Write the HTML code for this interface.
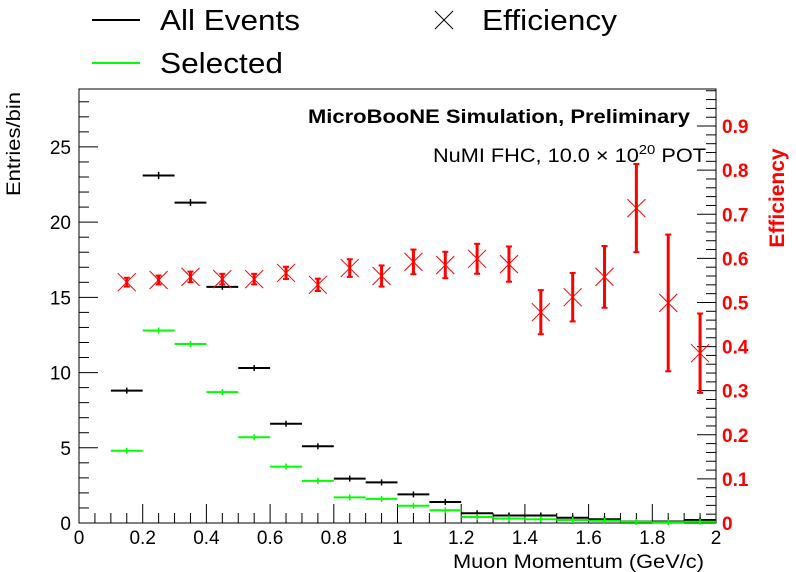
<!DOCTYPE html>
<html><head><meta charset="utf-8"><style>
html,body{margin:0;padding:0;background:#fff;}
svg{display:block;font-family:"Liberation Sans",sans-serif;}
</style></head><body>
<svg id="c" width="796" height="572" viewBox="0 0 796 572">
<rect width="796" height="572" fill="#fff"/>
<g id="legend">
<line x1="92" y1="20" x2="140" y2="20" stroke="#000" stroke-width="2"/>
<text x="160" y="30" font-size="29" textLength="140" lengthAdjust="spacingAndGlyphs">All Events</text>
<line x1="92" y1="63" x2="140" y2="63" stroke="#0f0" stroke-width="2"/>
<text x="160" y="73" font-size="29" textLength="123" lengthAdjust="spacingAndGlyphs">Selected</text>
<path d="M435 11 L453 29 M453 11 L435 29" stroke="#000" stroke-width="1"/>
<text x="482" y="30" font-size="29" textLength="135" lengthAdjust="spacingAndGlyphs">Efficiency</text>
</g>
<text x="308" y="123" font-size="19" font-weight="bold" textLength="382" lengthAdjust="spacingAndGlyphs">MicroBooNE Simulation, Preliminary</text>
<text x="433" y="162" font-size="19" textLength="273" lengthAdjust="spacingAndGlyphs">NuMI FHC, 10.0 × 10<tspan font-size="13" dy="-8">20</tspan><tspan dy="8"> POT</tspan></text>
<g id="axes"></g>
<g id="marks"></g>
<text x="453" y="568" font-size="19" textLength="251" lengthAdjust="spacingAndGlyphs">Muon Momentum (GeV/c)</text>
<text transform="translate(20,196) rotate(-90)" font-size="19" textLength="104" lengthAdjust="spacingAndGlyphs">Entries/bin</text>
<text transform="translate(784,198) rotate(-90)" font-size="21" font-weight="bold" fill="#f00" text-anchor="middle">Efficiency</text>
</svg>
<script>
const binLow = [0.1,0.2,0.3,0.4,0.5,0.6,0.7,0.8,0.9,1.0,1.1,1.2,1.3,1.4,1.5,1.6,1.7,1.8,1.9];
const allEvents = [8.8,23.1,21.3,15.7,10.3,6.6,5.1,2.95,2.7,1.9,1.4,0.65,0.5,0.5,0.35,0.25,0.1,0.1,0.2];
const selected = [4.8,12.8,11.9,8.7,5.7,3.75,2.8,1.7,1.6,1.15,0.85,0.4,0.3,0.25,0.2,0.15,0.08,0.05,0.08];
const efficiency = [0.546,0.551,0.558,0.553,0.553,0.567,0.54,0.578,0.56,0.592,0.585,0.599,0.587,0.478,0.512,0.558,0.714,0.499,0.385];
const effErr = [0.01,0.01,0.012,0.012,0.012,0.014,0.014,0.02,0.024,0.028,0.03,0.034,0.04,0.05,0.055,0.07,0.1,0.155,0.09];
const xTicks = [0,0.2,0.4,0.6,0.8,1,1.2,1.4,1.6,1.8,2];
const xTickLabels = ["0","0.2","0.4","0.6","0.8","1","1.2","1.4","1.6","1.8","2"];
const yTicks = [0,5,10,15,20,25];
const rTicks = [0,0.1,0.2,0.3,0.4,0.5,0.6,0.7,0.8,0.9];

const L=79,R=716,T=89,B=523;
const X=v=>L+(v-0)/2*(R-L);
const Y=v=>B-v*(B-T)/28.85;
const YR=v=>B-v*(B-T)/0.984;
const NS="http://www.w3.org/2000/svg";
function mk(tag,attrs,parent){const e=document.createElementNS(NS,tag);for(const k in attrs)e.setAttribute(k,attrs[k]);parent.appendChild(e);return e;}
const ax=document.getElementById('axes'), mg=document.getElementById('marks');

let f=mk('rect',{x:L,y:T,width:R-L,height:B-T,fill:'none',stroke:'#000','stroke-width':1},ax);


for(let i=0;i<=40;i++){const v=i*0.05;const maj=i%4===0;
 let t=mk('line',{x1:X(v),x2:X(v),y1:B,y2:B-(maj?19:10),stroke:'#000'},ax);
 
 }
xTicks.forEach((v,i)=>{let t=mk('text',{x:X(v),y:544,'font-size':19,'text-anchor':'middle'},ax);t.textContent=xTickLabels[i];
 
 });
for(let v=0;v<=28;v++){const maj=v%5===0;
 let t=mk('line',{x1:L,x2:L+(maj?19:10),y1:Y(v),y2:Y(v),stroke:'#000'},ax);
 
 }
yTicks.forEach(v=>{let t=mk('text',{x:L-8,y:Y(v)+7,'font-size':19,'text-anchor':'end'},ax);t.textContent=String(v);
 
 });
for(let i=0;i<=49;i++){const v=i*0.02;if(v>0.984)break;const maj=i%5===0;
 let t=mk('line',{x1:R,x2:R-(maj?19:10),y1:YR(v),y2:YR(v),stroke:'#000'},ax);
 
 }
rTicks.forEach(v=>{let t=mk('text',{x:722,y:YR(v)+7,'font-size':19,'font-weight':'bold',fill:'#f00'},ax);t.textContent=v===0?'0':String(v);
 
 });

function hist(vals,color,name){vals.forEach((v,i)=>{const x0=X(binLow[i]),x1=X(binLow[i]+0.1),xm=X(binLow[i]+0.05);
 const g=mk('g',{},mg);
 
 
 mk('line',{x1:x0,x2:x1,y1:Y(v),y2:Y(v),stroke:color,'stroke-width':2},g);
 const e=Math.sqrt(v)*0.05;
 mk('line',{x1:xm,x2:xm,y1:Y(v)-Math.max(3,e*15),y2:Y(v)+Math.max(3,e*15),stroke:color,'stroke-width':1.5},g);
});}
hist(allEvents,'#000','all-events');
hist(selected,'#0f0','selected');
efficiency.forEach((v,i)=>{const xm=X(binLow[i]+0.05),y=YR(v),e1=YR(v+effErr[i]),e2=YR(v-effErr[i]);
 const g=mk('g',{},mg);
 
 
 mk('line',{x1:xm,x2:xm,y1:e1,y2:e2,stroke:'#f00','stroke-width':3},g);
 mk('line',{x1:xm-3,x2:xm+3,y1:e1,y2:e1,stroke:'#f00','stroke-width':2},g);
 mk('line',{x1:xm-3,x2:xm+3,y1:e2,y2:e2,stroke:'#f00','stroke-width':2},g);
 const s=9;
 mk('path',{d:`M${xm-s} ${y-s}L${xm+s} ${y+s}M${xm+s} ${y-s}L${xm-s} ${y+s}`,stroke:'#f00','stroke-width':1},g);
});
</script>
</body></html>
